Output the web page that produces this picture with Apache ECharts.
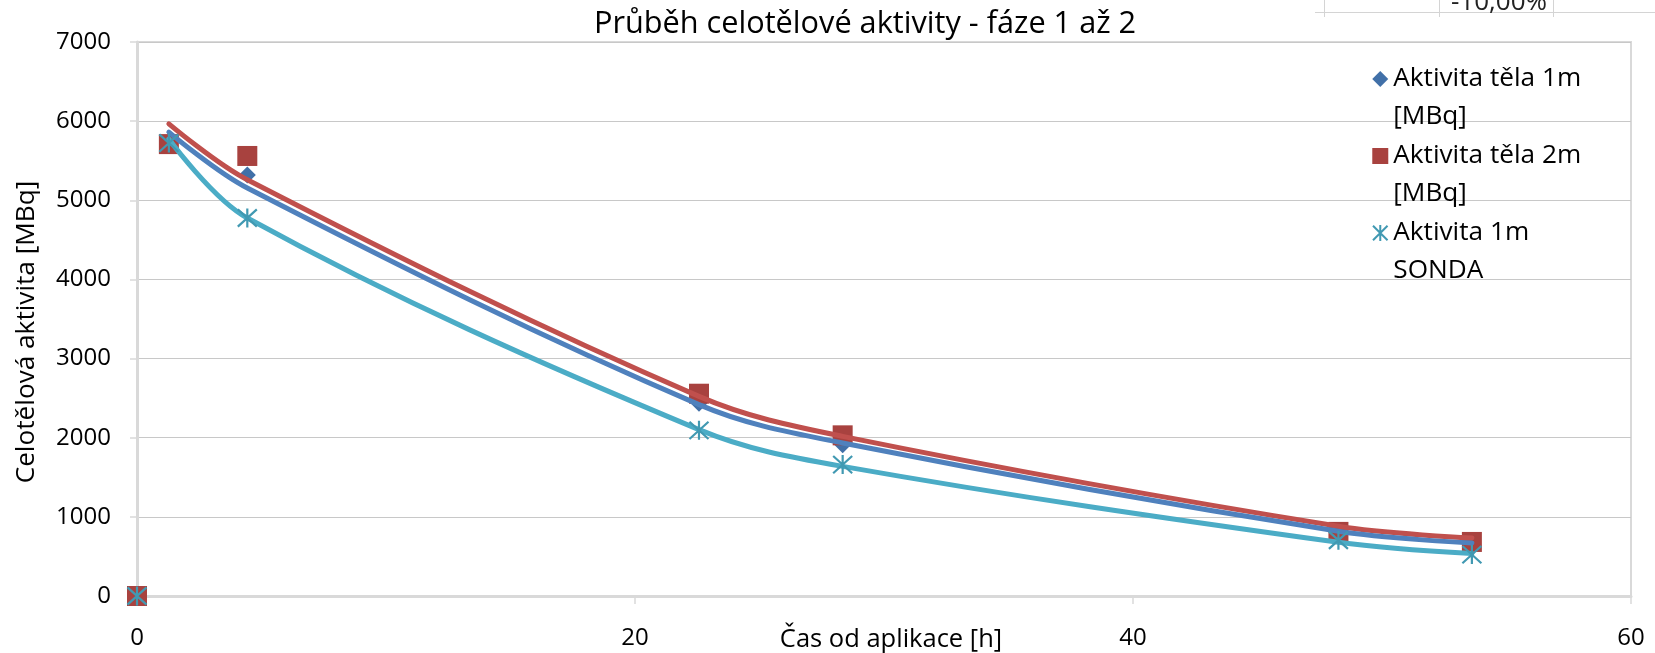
<!DOCTYPE html>
<html>
<head>
<meta charset="utf-8">
<script src="https://cdn.jsdelivr.net/npm/echarts@6/dist/echarts.min.js"></script>
<style>
  html, body { margin: 0; padding: 0; background: #fff; }
  #chart { width: 1655px; height: 653px; }
</style>
</head>
<body>
<div id="chart"></div>
<script>
// Measured whole-body activity after application (time in hours, activity in MBq)
const hours = [0, 1.28, 4.43, 22.57, 28.34, 48.25, 53.61];
const bodyAt1m = [0, 5740, 5320, 2435, 1912, 790, 660];
const bodyAt2m = [0, 5710, 5560, 2556, 2030, 810, 683];
const probeAt1m = [0, 5723, 4776, 2093, 1660, 704, 523];

// Smoothed trend curves, one vertex per measurement time (the zero point is left out)
const trendHours = [1.28, 4.43, 22.57, 28.34, 48.25, 53.61];
const trend1mValues = [5862, 5155, 2418, 1934, 817, 671];
const trend2mValues = [5966, 5260, 2522, 2017, 881, 734];
const trendProbeValues = [5774, 4776, 2102, 1638, 678, 536];

const seriesNames = ['Aktivita těla 1m [MBq]', 'Aktivita těla 2m [MBq]', 'Aktivita 1m SONDA'];
const legendLines = {
  'Aktivita těla 1m [MBq]': ['Aktivita těla 1m', '[MBq]'],
  'Aktivita těla 2m [MBq]': ['Aktivita těla 2m', '[MBq]'],
  'Aktivita 1m SONDA': ['Aktivita 1m', 'SONDA']
};
const xTicks = [0, 20, 40, 60];
const yTicks = [0, 1000, 2000, 3000, 4000, 5000, 6000, 7000];

const FONT = '"Open Sans", "Noto Sans", sans-serif';
const TICK = 24;
const LEG = 26.2;
const LH = 37.6;

const pairs = (xs, ys) => xs.map((x, i) => [x, ys[i]]);
const starPath = 'path://M0,0L20,20M20,0L0,20M10,-1L10,21';

const chart = echarts.init(document.getElementById('chart'), null, { renderer: 'canvas' });

const trendLine = (name, ys, color, z) => ({
  name, type: 'line', data: pairs(trendHours, ys), smooth: 0.35,
  showSymbol: false, symbol: 'none', silent: true, z,
  lineStyle: { color, width: 5, cap: 'round' }
});

chart.setOption({
  animation: false,
  backgroundColor: '#ffffff',
  textStyle: { fontFamily: FONT },
  title: {
    text: 'Průběh celotělové aktivity - fáze 1 až 2',
    left: 860, top: 4, textAlign: 'center',
    textStyle: { fontFamily: FONT, fontSize: 30.7, fontWeight: 'normal', color: '#000' }
  },
  grid: {
    left: 137, right: 24, top: 42, bottom: 57,
    outerBoundsMode: 'none', containLabel: false,
    show: true, borderColor: '#D9D9D9', borderWidth: 2, backgroundColor: 'transparent'
  },
  legend: {
    data: seriesNames,
    orient: 'vertical', left: 1372, top: 22.6, padding: 0,
    itemWidth: 16, itemHeight: 16, itemGap: 77 - 3 * LH,
    // an empty first line keeps the marker level with the first text line
    formatter: n => '{t|\u00a0}\n' + legendLines[n].map(s => '{t|' + s + '}').join('\n'),
    textStyle: {
      fontFamily: FONT, fontSize: LEG, color: '#000', lineHeight: LH,
      rich: { t: { fontFamily: FONT, fontSize: LEG, color: '#000', lineHeight: LH } }
    }
  },
  xAxis: {
    type: 'value', min: 0, max: 60, interval: 20,
    name: 'Čas od aplikace [h]', nameLocation: 'middle', nameGap: 31, nameMoveOverlap: false,
    nameTextStyle: { fontFamily: FONT, fontSize: 25.5, color: '#000', padding: [0, 0, 0, 14] },
    axisLine: { show: true, lineStyle: { color: '#D9D9D9', width: 3 } },
    axisTick: { show: true, length: 8, lineStyle: { color: '#D9D9D9', width: 1.5 } },
    axisLabel: {
      fontFamily: FONT, fontSize: TICK, color: '#000', margin: 30,
      formatter: v => (xTicks.includes(v) ? String(v) : '')
    },
    splitLine: { show: false }
  },
  yAxis: {
    type: 'value', min: 0, max: 7000, interval: 1000,
    name: 'Celotělová aktivita [MBq]', nameLocation: 'middle', nameGap: 97, nameRotate: 90,
    nameMoveOverlap: false,
    nameTextStyle: { fontFamily: FONT, fontSize: LEG, color: '#000', padding: [0, 26, 0, 0] },
    axisLine: { show: true, lineStyle: { color: '#D9D9D9', width: 3 } },
    axisTick: { show: true, length: 7, lineStyle: { color: '#D9D9D9', width: 1.5 } },
    axisLabel: {
      fontFamily: FONT, fontSize: TICK, color: '#000', margin: 26,
      formatter: v => (yTicks.includes(v) ? String(v) : '')
    },
    splitLine: { show: true, lineStyle: { color: '#C8C8C8', width: 1.2 } }
  },
  series: [
    {
      name: seriesNames[0], type: 'scatter', data: pairs(hours, bodyAt1m),
      symbol: 'diamond', symbolSize: 17, z: 2,
      itemStyle: { color: '#4170A8', opacity: 1 }
    },
    {
      name: seriesNames[1], type: 'scatter', data: pairs(hours, bodyAt2m),
      symbol: 'rect', symbolSize: 20, z: 2,
      itemStyle: { color: '#A8423F', opacity: 1 }
    },
    trendLine('trend 2m', trend2mValues, '#C0504D', 3),
    trendLine('trend 1m', trend1mValues, '#4F81BD', 3),
    trendLine('trend probe', trendProbeValues, '#4BACC6', 3),
    {
      name: seriesNames[2], type: 'scatter', data: pairs(hours, probeAt1m),
      symbol: starPath, symbolSize: 19, z: 4,
      itemStyle: { color: 'rgba(0,0,0,0)', borderColor: '#4199B2', borderWidth: 2.2, opacity: 1 }
    }
  ],
  graphic: [
    // fragment of the worksheet cells peeking above the chart
    { type: 'line', silent: true, shape: { x1: 1315, y1: 12.5, x2: 1655, y2: 12.5 }, style: { stroke: '#D4D4D4', lineWidth: 1 } },
    { type: 'line', silent: true, shape: { x1: 1324.5, y1: 0, x2: 1324.5, y2: 17 }, style: { stroke: '#D4D4D4', lineWidth: 1 } },
    { type: 'line', silent: true, shape: { x1: 1439.5, y1: 0, x2: 1439.5, y2: 17 }, style: { stroke: '#D4D4D4', lineWidth: 1 } },
    { type: 'line', silent: true, shape: { x1: 1553.5, y1: 0, x2: 1553.5, y2: 17 }, style: { stroke: '#D4D4D4', lineWidth: 1 } },
    {
      type: 'text', silent: true, x: 1547, y: 16,
      style: { text: '-10,00%', font: '26px ' + FONT, fill: '#222', align: 'right', verticalAlign: 'bottom' }
    }
  ]
});
</script>
</body>
</html>
